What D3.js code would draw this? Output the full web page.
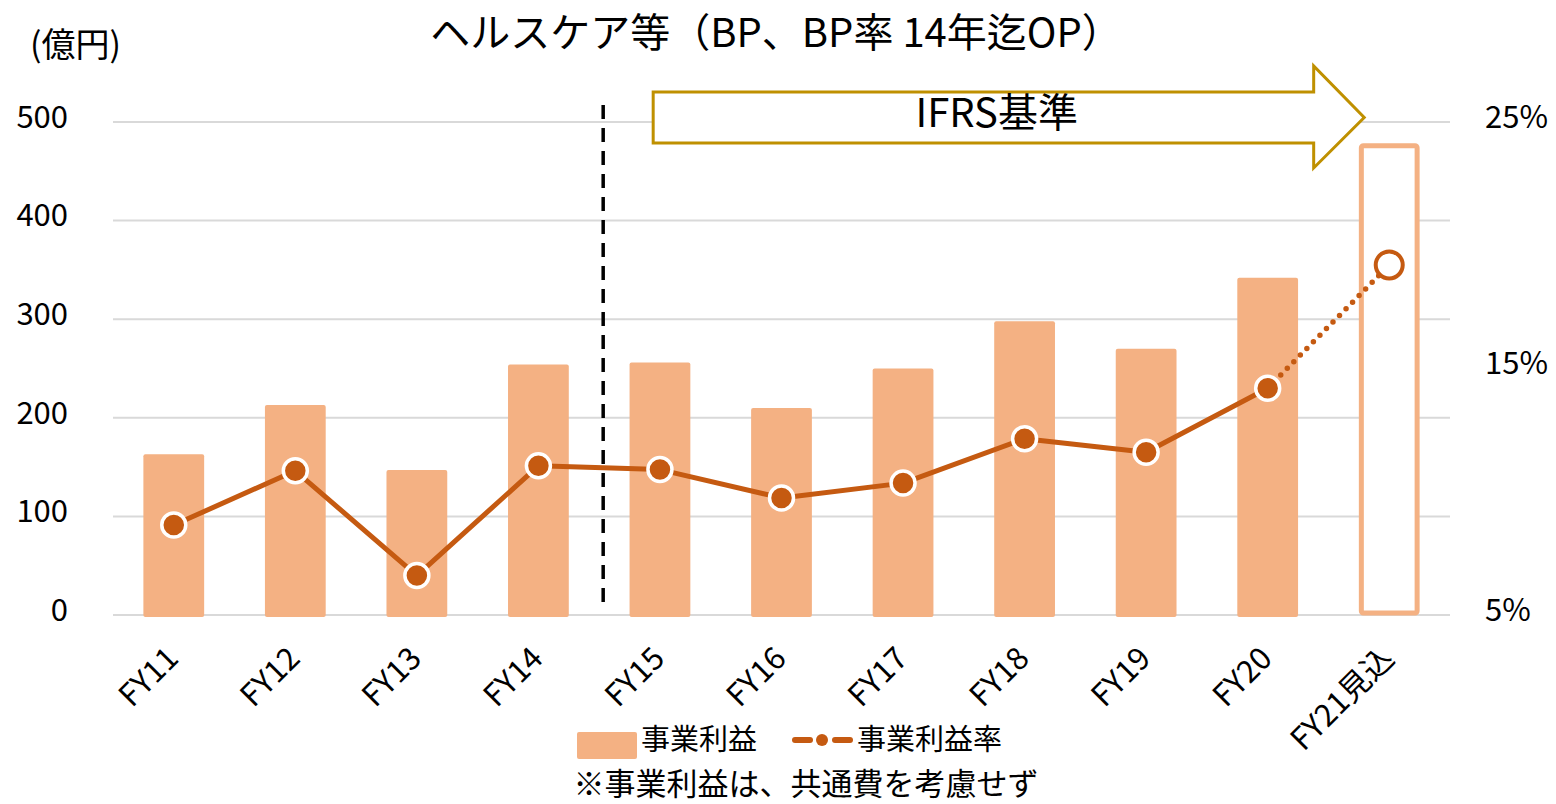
<!DOCTYPE html>
<html>
<head>
<meta charset="utf-8">
<script src="https://cdn.jsdelivr.net/npm/d3@7"></script>
<style>
	body { margin: 0; background: #fff; }
	svg text { font-family: "Noto Sans CJK JP", "Noto Sans", sans-serif; fill: #000; }
</style>
</head>
<body>
<div class="chart"></div>
<script>
var categories = ["FY11", "FY12", "FY13", "FY14", "FY15", "FY16", "FY17", "FY18", "FY19", "FY20", "FY21見込"];
var profit = [163, 213, 147, 254, 256, 210, 250, 298, 270, 342, 476];
var profitRate = [8.65, 10.85, 6.6, 11.05, 10.9, 9.75, 10.35, 12.15, 11.6, 14.2, 19.2];
var leftTicks = [0, 100, 200, 300, 400, 500];
var rightTicks = [5, 15, 25];

var W = 1556, H = 804;
var plot = {left: 113, right: 1450, top: 122, bottom: 615};

var barColor = "#F4B183", lineColor = "#C55A11", arrowColor = "#BF9000";

var svg = d3.select(".chart").append("svg")
	.attr("width", W)
	.attr("height", H);

var x = d3.scaleBand()
	.domain(categories)
	.range([plot.left, plot.right])
	.paddingInner(0.5)
	.paddingOuter(0.25);

var y = d3.scaleLinear().domain([0, 500]).range([plot.bottom, plot.top]);
var yr = d3.scaleLinear().domain([5, 25]).range([plot.bottom, plot.top]);

var cx = function (c) { return x(c) + x.bandwidth() / 2; };

// gridlines
svg.append("g").selectAll("line").data(leftTicks).enter().append("line")
	.attr("x1", plot.left).attr("x2", plot.right)
	.attr("y1", function (d) { return y(d); })
	.attr("y2", function (d) { return y(d); })
	.attr("stroke", "#D9D9D9").attr("stroke-width", 2);

// left axis labels
svg.append("g").selectAll("text").data(leftTicks).enter().append("text")
	.attr("x", 68).attr("y", function (d) { return y(d); })
	.attr("dy", "0.19em")
	.attr("text-anchor", "end")
	.style("font-size", "31px")
	.text(function (d) { return d; });

// right axis labels
svg.append("g").selectAll("text").data(rightTicks).enter().append("text")
	.attr("x", 1485).attr("y", function (d) { return yr(d); })
	.attr("dy", "0.19em")
	.style("font-size", "31px")
	.text(function (d) { return d + "%"; });

// bars
var last = categories.length - 1;
svg.append("g").selectAll("rect").data(profit).enter().append("rect")
	.attr("x", function (d, i) { return i === last ? x(categories[i]) + 2.5 : x(categories[i]); })
	.attr("y", function (d) { return y(d); })
	.attr("width", function (d, i) { return i === last ? x.bandwidth() - 5 : x.bandwidth(); })
	.attr("height", function (d, i) { return y(0) - y(d) + (i === last ? -2 : 2); })
	.attr("rx", 2)
	.attr("fill", function (d, i) { return i === last ? "#fff" : barColor; })
	.attr("stroke", function (d, i) { return i === last ? barColor : "none"; })
	.attr("stroke-width", 5);

// dashed divider between FY14 and FY15
var divX = (cx("FY14") + cx("FY15")) / 2 + 4;
svg.append("line")
	.attr("x1", divX).attr("x2", divX)
	.attr("y1", 105).attr("y2", 606)
	.attr("stroke", "#000").attr("stroke-width", 3.5)
	.attr("stroke-dasharray", "14 9");

// IFRS arrow
var ax0 = divX + 50, ax1 = cx("FY20") + 46, tip = cx("FY21見込") - 25;
var bodyT = 92, bodyB = 143, headT = 66, headB = 168, midY = (bodyT + bodyB) / 2;
svg.append("path")
	.attr("d", "M" + ax0 + "," + bodyT + "H" + ax1 + "V" + headT + "L" + tip + "," + midY +
		"L" + ax1 + "," + headB + "V" + bodyB + "H" + ax0 + "Z")
	.attr("fill", "#fff").attr("stroke", arrowColor).attr("stroke-width", 3);
svg.append("text")
	.attr("x", (ax0 + tip) / 2 - 12).attr("y", 127)
	.attr("text-anchor", "middle")
	.style("font-size", "40px")
	.text("IFRS基準");

// rate line
var pts = profitRate.map(function (v, i) { return [cx(categories[i]), yr(v)]; });
var line = d3.line();
svg.append("path")
	.attr("d", line(pts.slice(0, last)))
	.attr("fill", "none").attr("stroke", lineColor).attr("stroke-width", 5)
	.attr("stroke-linejoin", "round");
svg.append("path")
	.attr("d", line(pts.slice(last - 1)))
	.attr("fill", "none").attr("stroke", lineColor).attr("stroke-width", 5.5)
	.attr("stroke-linecap", "round")
	.attr("stroke-dasharray", "0 9.3");

svg.append("g").selectAll("circle").data(pts).enter().append("circle")
	.attr("cx", function (d) { return d[0]; })
	.attr("cy", function (d) { return d[1]; })
	.attr("r", function (d, i) { return i === last ? 13.5 : 12; })
	.attr("fill", function (d, i) { return i === last ? "#fff" : lineColor; })
	.attr("stroke", function (d, i) { return i === last ? lineColor : "#fff"; })
	.attr("stroke-width", function (d, i) { return i === last ? 4 : 3.5; });

// x labels
svg.append("g").selectAll("text").data(categories).enter().append("text")
	.attr("transform", function (d) { return "translate(" + (cx(d) - 9) + ",645) rotate(-45)"; })
	.attr("text-anchor", "end")
	.attr("dy", "0.7em")
	.style("font-size", "31px")
	.text(function (d) { return d; });

// titles
svg.append("text")
	.attr("x", 776).attr("y", 47)
	.attr("text-anchor", "middle")
	.style("font-size", "40px")
	.text("ヘルスケア等（BP、BP率 14年迄OP）");
svg.append("text")
	.attr("x", 30).attr("y", 57)
	.style("font-size", "34px")
	.text("(億円)");

// legend
var leg = svg.append("g");
leg.append("rect").attr("x", 577).attr("y", 732).attr("width", 60).attr("height", 27)
	.attr("rx", 2).attr("fill", barColor);
leg.append("text").attr("x", 641).attr("y", 750).style("font-size", "29px").text("事業利益");
leg.append("line").attr("x1", 795).attr("x2", 810).attr("y1", 740).attr("y2", 740)
	.attr("stroke", lineColor).attr("stroke-width", 6).attr("stroke-linecap", "round");
leg.append("line").attr("x1", 835).attr("x2", 850).attr("y1", 740).attr("y2", 740)
	.attr("stroke", lineColor).attr("stroke-width", 6).attr("stroke-linecap", "round");
leg.append("circle").attr("cx", 822).attr("cy", 740).attr("r", 6).attr("fill", lineColor);
leg.append("text").attr("x", 857).attr("y", 750).style("font-size", "29px").text("事業利益率");

svg.append("text")
	.attr("x", 806).attr("y", 795)
	.attr("text-anchor", "middle")
	.style("font-size", "31px")
	.text("※事業利益は、共通費を考慮せず");
</script>
</body>
</html>
